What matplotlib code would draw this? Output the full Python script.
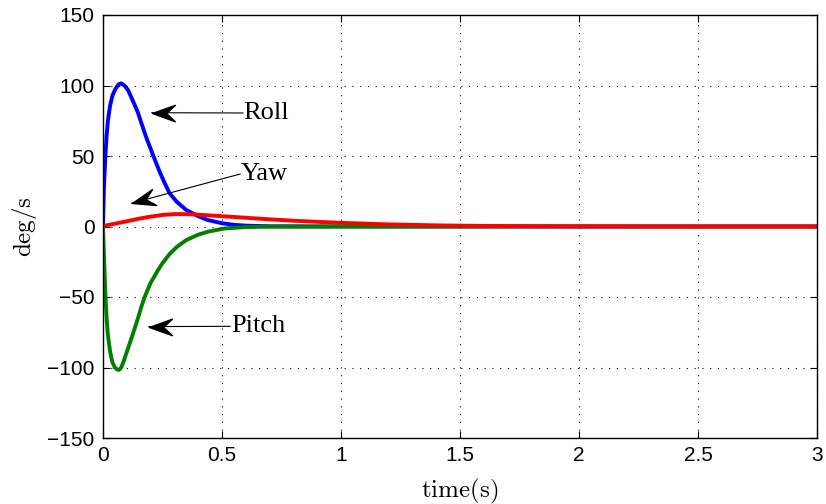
import matplotlib
matplotlib.use("Agg")
import matplotlib.pyplot as plt
from matplotlib.path import Path
from matplotlib.markers import MarkerStyle
from matplotlib.transforms import Affine2D
import numpy as np

plt.rcParams['mathtext.fontset'] = 'cm'

t_roll = [0, 0.004, 0.01, 0.015, 0.021, 0.03, 0.04, 0.052, 0.065, 0.077, 0.09, 0.105,
          0.118, 0.13, 0.147, 0.16, 0.18, 0.21, 0.24, 0.26, 0.28, 0.31, 0.35, 0.40,
          0.44, 0.50, 0.55, 0.60, 0.70, 1.0, 3.0]
roll = [0, 28, 50, 64, 75.5, 86, 93, 97.5, 100.8, 101.5, 100, 96.8,
        92, 87.4, 80.7, 74, 64, 50.7, 38, 30.5, 23.5, 17.5, 11.7, 7.3,
        4.6, 2.3, 1.2, 0.6, 0.15, 0, 0]

t_pitch = [0, 0.005, 0.01, 0.015, 0.02, 0.03, 0.04, 0.05, 0.06, 0.067, 0.075, 0.085,
           0.098, 0.11, 0.126, 0.147, 0.16, 0.175, 0.20, 0.231, 0.25, 0.28, 0.31, 0.35,
           0.40, 0.44, 0.51, 0.60, 0.70, 1.0, 3.0]
pitch = [0, -25, -48, -64, -76, -89, -96.5, -100, -101.5, -101.7, -100.5, -96.5,
         -90, -84, -76, -65, -57.5, -50, -40, -31, -26, -19.5, -14.5, -9.6,
         -5.8, -3.7, -1.4, -0.4, -0.1, 0, 0]

t_yaw = [0, 0.05, 0.10, 0.15, 0.20, 0.25, 0.30, 0.35, 0.40, 0.50, 0.60, 0.70, 0.80,
         0.90, 1.0, 1.2, 1.4, 1.6, 1.8, 2.0, 2.5, 3.0]
yaw = [0.3, 2, 3.7, 5.5, 7.0, 8.2, 8.8, 8.8, 8.4, 7.3, 6.2, 5.1, 4.1,
       3.3, 2.6, 1.5, 0.8, 0.4, 0.2, 0.1, 0, 0]

labels = ["Roll", "Yaw", "Pitch"]
tips = [(0.205, 80.7), (0.12, 16.5), (0.193, -71)]
tails = [(0.588, 80.5), (0.576, 37.2), (0.534, -70.8)]

fig = plt.figure(figsize=(8.26, 5.04), dpi=100)
ax = fig.add_axes([103/826, 66/504, 714/826, 423/504])

ax.plot(t_roll, roll, color=(0, 0, 1), lw=2.8)
ax.plot(t_pitch, pitch, color=(0, 0.5, 0), lw=2.8)
ax.plot(t_yaw, yaw, color=(1, 0, 0), lw=2.8)

ax.set_xlim(0, 3)
ax.set_ylim(-150, 150)

# matlab style arrow head (concave back)
head = Path([(0, 0), (-1, 0.36), (-0.62, 0), (-1, -0.36), (0, 0)],
            [Path.MOVETO, Path.LINETO, Path.LINETO, Path.LINETO, Path.CLOSEPOLY])

for lab, tip, tail in zip(labels, tips, tails):
    ax.plot([tail[0], tip[0]], [tail[1], tip[1]], color='k', lw=0.8)
    p0 = ax.transData.transform(tail)
    p1 = ax.transData.transform(tip)
    ang = np.arctan2(p1[1] - p0[1], p1[0] - p0[0])
    m = MarkerStyle(head, transform=Affine2D().rotate(ang))
    ax.plot([tip[0]], [tip[1]], marker=m, markersize=33, color='k', lw=0)
    ax.text(tail[0] + 0.003, tail[1], lab, ha='left', va='center',
            fontsize=19, family='Liberation Serif')

ax.set_xticks(np.arange(0, 3.01, 0.5))
ax.set_xticklabels(['0', '0.5', '1', '1.5', '2', '2.5', '3'])
ax.set_yticks(np.arange(-150, 151, 50))
ax.set_yticklabels(['\u2212150', '\u2212100', '\u221250', '0', '50', '100', '150'])
ax.tick_params(direction='in', top=True, right=True, length=5, width=0.8,
               labelsize=15, pad=6)
for lbl in ax.get_xticklabels() + ax.get_yticklabels():
    lbl.set_family('Liberation Sans')

ax.grid(True, color='k', linestyle=(0, (1, 6)), lw=0.8)
for s in ax.spines.values():
    s.set_linewidth(1.0)

ax.set_xlabel(r'$\mathrm{time(s)}$', fontsize=18, labelpad=8)
ax.set_ylabel(r'$\mathrm{deg/s}$', fontsize=18, labelpad=6)

fig.savefig("out.png", dpi=100)
